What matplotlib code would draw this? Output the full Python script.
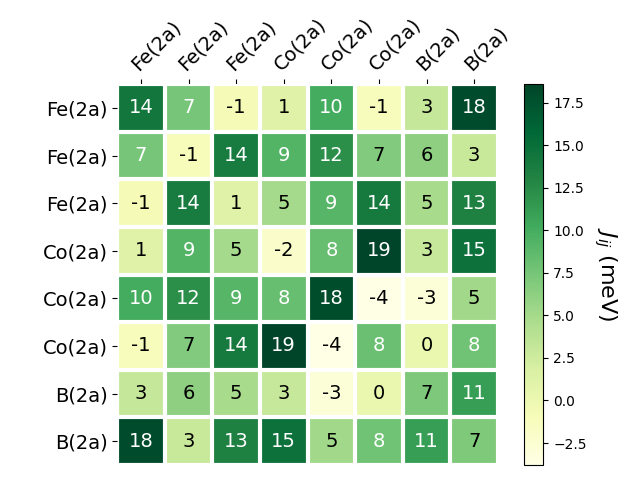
import numpy as np
import matplotlib
matplotlib.use("Agg")
import matplotlib.pyplot as plt

# site labels
labels = ["Fe(2a)", "Fe(2a)", "Fe(2a)", "Co(2a)", "Co(2a)", "Co(2a)", "B(2a)", "B(2a)"]

# exchange couplings J_ij (meV)
jij = [
    [14.2, 7.45, -0.8, 1.2, 10.1, -1.2, 3.1, 18.0],
    [7.45, -1.1, 13.8, 9.2, 12.2, 6.8, 6.2, 2.9],
    [-0.8, 13.8, 1.1, 5.0, 9.1, 14.0, 4.8, 13.3],
    [1.2, 9.2, 5.0, -2.1, 8.2, 18.6, 3.0, 14.8],
    [10.1, 12.2, 9.1, 8.2, 17.9, -3.8, -2.9, 5.2],
    [-1.2, 6.8, 14.0, 18.6, -3.8, 8.1, 0.2, 7.8],
    [3.1, 6.2, 4.8, 3.0, -2.9, 0.2, 7.1, 11.0],
    [18.0, 2.9, 13.3, 14.8, 5.2, 7.8, 11.0, 7.0],
]
data = np.array(jij)

fig = plt.figure(figsize=(6.4, 4.8), dpi=100)
ax = fig.add_axes([0.183, 0.031, 0.595, 0.794])
cax = fig.add_axes([0.819, 0.031, 0.030, 0.794])

im = ax.imshow(data, cmap="YlGn")
cbar = fig.colorbar(im, cax=cax)
cbar.ax.set_ylabel("$J_{ij}$ (meV)", rotation=-90, va="bottom", fontsize=16)

n = len(labels)
ax.set_xticks(np.arange(n))
ax.set_yticks(np.arange(n))
ax.set_xticklabels(labels, fontsize=14)
ax.set_yticklabels(labels, fontsize=14)
ax.tick_params(top=True, bottom=False, labeltop=True, labelbottom=False)
plt.setp(ax.get_xticklabels(), rotation=45, ha="left", rotation_mode="anchor")

for s in ax.spines.values():
    s.set_visible(False)
ax.set_xticks(np.arange(n + 1) - 0.5, minor=True)
ax.set_yticks(np.arange(n + 1) - 0.5, minor=True)
ax.grid(which="minor", color="w", linestyle="-", linewidth=3)
ax.tick_params(which="minor", bottom=False, left=False, top=False)

# annotate cells
threshold = im.norm(data.max()) / 2.0
for i in range(n):
    for j in range(n):
        c = "white" if im.norm(data[i, j]) > threshold else "black"
        ax.text(j, i, "{:.0f}".format(data[i, j]), ha="center", va="center",
                color=c, fontsize=14)

fig.savefig("out.png")
